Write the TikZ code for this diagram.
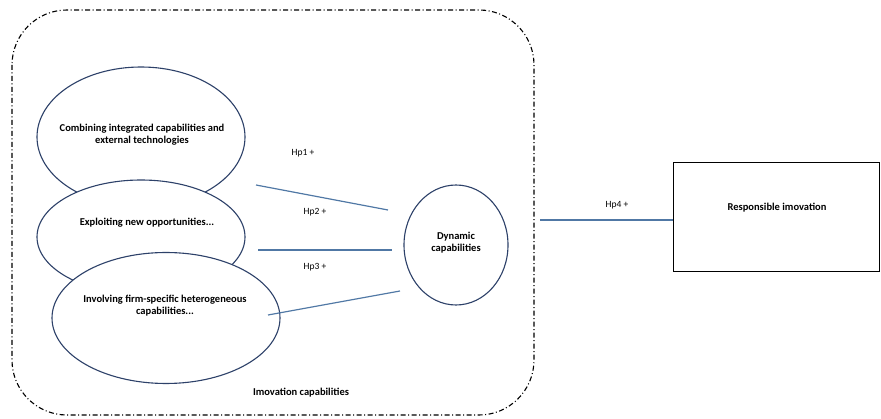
\documentclass[tikz,border=0pt]{standalone}
\usepackage{fontspec}
\setmainfont{Carlito}
\usetikzlibrary{shapes.geometric}
\definecolor{ellcol}{RGB}{45,65,105}
\definecolor{linecol}{RGB}{80,120,165}
\tikzset{
  ell/.style={draw=ellcol, line width=1.1pt, fill=white, ellipse, inner sep=0pt},
  lbl/.style={font=\fontsize{10.5}{12}\selectfont\bfseries, align=center, inner sep=0pt},
  hp/.style={font=\fontsize{9.5}{11}\selectfont, inner sep=0pt},
  conn/.style={draw=linecol, line width=1.2pt},
}
\begin{document}
\begin{tikzpicture}[x=1pt,y=-1pt]
\useasboundingbox (0,0) rectangle (881,419);
% outer dash-dot rounded frame
\draw[line width=1.1pt, dash pattern=on 5pt off 2.5pt on 1pt off 2.5pt, rounded corners=55pt] (12,10) rectangle (534,415);
% ellipses
\node[ell, minimum width=208pt, minimum height=140pt] (e1) at (141,137) {};
\node[ell, minimum width=208pt, minimum height=114pt] (e2) at (141,237) {};
\node[ell, minimum width=228pt, minimum height=131pt] (e3) at (166,318) {};
\node[lbl] (t1) at (142,135) {Combining integrated capabilities and\\external technologies};
\node[lbl] (t2) at (147,223) {Exploiting new opportunities...};
\node[lbl] (t3) at (165,306) {Involving firm-specific heterogeneous\\capabilities...};
% dynamic capabilities
\node[ell, minimum width=104pt, minimum height=120pt] (dc) at (456,245) {};
\node[lbl] (tdc) at (456,243) {Dynamic\\capabilities};
% responsible innovation box
\node[draw, line width=1pt, minimum width=206pt, minimum height=109pt, inner sep=0pt] (ri) at (776,217.5) {};
\node[lbl] (tri) at (777,208) {Responsible imovation};
% connectors
\coordinate (a1) at (256,185); \coordinate (b1) at (388,210);
\coordinate (a2) at (258,250); \coordinate (b2) at (392,250);
\coordinate (a3) at (268,315); \coordinate (b3) at (400,291);
\coordinate (a4) at (540,220);
\draw[conn] (a1) -- (b1);
\draw[conn] (a2) -- (b2);
\draw[conn] (a3) -- (b3);
\draw[conn] (a4) -- (ri.west |- a4);
% labels
\node[hp] (h1) at (303,153) {Hp1 +};
\node[hp] (h2) at (315,212) {Hp2 +};
\node[hp] (h3) at (315,267) {Hp3 +};
\node[hp] (h4) at (617,205) {Hp4 +};
\node[lbl] (ic) at (301,393) {Imovation capabilities};
\end{tikzpicture}
\end{document}
